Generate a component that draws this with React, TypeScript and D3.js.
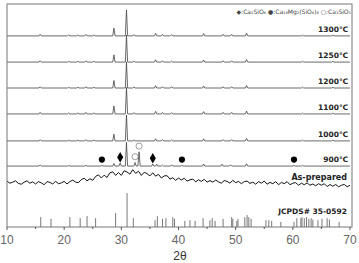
import React, { useEffect, useRef } from "react";
import * as d3 from "d3";

// x range of the patterns (2θ, degrees)
const xTicks = [10, 20, 30, 40, 50, 60, 70];
const xMinor = [15, 25, 35, 45, 55, 65];

// akermanite-type reflections seen in the 1000-1300 ℃ patterns
const peakPos = [15.8, 20.8, 22.4, 23.8, 25.2, 28.7, 30.9, 32.2, 36.0, 37.2, 38.8, 44.4, 47.8, 49.3, 51.9, 61.7, 67.0];
const tempLabels = ["1300℃", "1250℃", "1200℃", "1100℃", "1000℃"];
const tempOffsets = [737, 636, 536, 436, 332];
const tempIntensities = [
  [6, 4, 4, 6, 4, 30, 100, 5, 10, 6, 5, 9, 6, 6, 11, 3, 3],
  [5, 3, 3, 5, 3, 28, 104, 4, 9, 5, 4, 8, 5, 5, 10, 3, 3],
  [5, 3, 3, 5, 3, 29, 100, 4, 9, 5, 5, 8, 5, 5, 10, 4, 3],
  [6, 4, 4, 6, 4, 31, 102, 5, 10, 6, 5, 9, 6, 6, 11, 3, 3],
  [5, 3, 3, 5, 3, 26, 100, 4, 8, 5, 4, 8, 5, 5, 10, 3, 3],
];

// 900 ℃ pattern
const pos900 = [15.8, 20.8, 23.8, 26.6, 28.7, 29.8, 30.9, 32.4, 33.1, 35.5, 36.2, 37.2, 38.8, 40.6, 44.4, 47.6, 49.1, 51.9, 60.2, 61.7];
const int900 = [4, 2, 3, 3, 10, 12, 92, 14, 55, 8, 7, 4, 5, 3, 8, 7, 5, 9, 3, 3];
const offset900 = 235;
// phase markers on the 900 ℃ pattern: d = diamond, f = filled circle, o = open circle
const markerPos = [26.6, 29.8, 32.4, 33.1, 35.5, 40.6, 60.2];
const markerType = ["f", "d", "o", "o", "d", "f", "f"];

// as-prepared (amorphous) pattern, sampled every 0.5° from 10 to 70
const asPrepared = [
  7, -1, 3, 8, -2, -5, 3, 8, -1, 4, -4, 5, 0, -7, 5, 2, -4, 6, -3, 0,
  6, -4, 5, 11, 3, 1, 13, 18, 8, 16, 10, 25, 31, 19, 30, 21, 39, 43, 29, 40,
  29, 47, 42, 34, 51, 37, 45, 29, 41, 36, 27, 39, 26, 33, 19, 27, 28, 15, 20, 10,
  19, 11, 18, 7, 12, 15, 4, 12, 6, 14, 3, 9, 3, 11, 4, -1, 9, 6, -1, 10,
  1, 6, -3, 5, 7, -2, 3, -5, 5, -1, 7, -5, 2, -3, 5, -7, 2, -3, 5, -7,
  -1, 1, -9, -1, -7, 0, -9, -4, -11, -3, -9, -3, -14, -6, -13, -6, -15, -9, -6, -15,
  -9,
];
const asPreparedOffset = 170;

// JCPDS# 35-0592 reference lines
const refPos = [15.9, 17.7, 21.0, 22.8, 24.0, 25.5, 29.0, 31.0, 32.1, 35.9, 36.3, 37.2, 37.8, 39.0, 39.3,
  41.1, 42.0, 42.9, 44.3, 45.5, 45.9, 46.4, 47.8, 49.3, 49.5, 50.2, 50.4, 51.6, 52.0, 52.3, 52.7,
  55.3, 55.8, 56.3, 57.9, 60.2, 60.7, 61.4, 61.6, 62.0, 62.4, 62.8, 63.2, 63.5, 64.4, 65.1, 66.0, 66.4, 68.1];
const refInt = [29, 24, 29, 26, 32, 26, 41, 100, 26, 20, 32, 24, 26, 29, 24,
  18, 20, 18, 26, 20, 26, 18, 24, 29, 24, 18, 24, 29, 35, 29, 24,
  20, 20, 18, 15, 15, 26, 26, 29, 26, 29, 24, 26, 22, 20, 24, 26, 22, 15];

const W = 359;
const H = 263;

const App: React.FC = () => {
  const ref = useRef<SVGSVGElement>(null);

  useEffect(() => {
    document.body.style.margin = "0";
    const svg = d3.select(ref.current);
    svg.selectAll("*").remove();

    const left = 7, right = 352, top = 4, bottom = 227;
    const x = d3.scaleLinear().domain([10, 70]).range([left, 350]);
    const y = d3.scaleLinear().domain([0, 860]).range([bottom, top]);
    const yRef = d3.scaleLinear().domain([0, 100]).range([bottom, 193]);
    const lineColor = "#444";

    svg.append("rect").attr("width", W).attr("height", H).attr("fill", "#fff");

    const line = d3.line<[number, number]>().x((d) => x(d[0])).y((d) => y(d[1]));
    const hw = 0.2;
    const spikes = (pos: number[], ints: number[], off: number): [number, number][] => {
      const pts: [number, number][] = [[10, off]];
      pos.forEach((p, i) => {
        pts.push([p - hw, off], [p, off + ints[i]], [p + hw, off]);
      });
      pts.push([70, off]);
      return pts;
    };

    const g = svg.append("g");

    // reference sticks
    g.selectAll("line.ref")
      .data(refPos)
      .enter()
      .append("line")
      .attr("x1", (d) => x(d))
      .attr("x2", (d) => x(d))
      .attr("y1", bottom)
      .attr("y2", (d, i) => yRef(refInt[i]))
      .attr("stroke", "#555")
      .attr("stroke-width", 0.8);

    // as-prepared
    g.append("path")
      .attr("d", line(asPrepared.map((v, i) => [10 + i * 0.5, asPreparedOffset + v] as [number, number])))
      .attr("fill", "none")
      .attr("stroke", "#111")
      .attr("stroke-width", 1);

    // 900
    g.append("path")
      .attr("d", line(spikes(pos900, int900, offset900)))
      .attr("fill", "none")
      .attr("stroke", lineColor)
      .attr("stroke-width", 0.8);

    // 1000 - 1300
    tempOffsets.forEach((off, k) => {
      g.append("path")
        .attr("d", line(spikes(peakPos, tempIntensities[k], off)))
        .attr("fill", "none")
        .attr("stroke", lineColor)
        .attr("stroke-width", 0.8);
    });

    // markers
    const mk = g.selectAll("g.mk")
      .data(markerPos)
      .enter()
      .append("g")
      .attr("transform", (d) => {
        const h = int900[pos900.indexOf(d)] ?? 0;
        return `translate(${x(d)},${y(offset900 + h + 22)})`;
      });
    mk.append("path")
      .attr("d", (d, i) => {
        const t = markerType[i];
        return d3.symbol().type(t === "d" ? d3.symbolDiamond : d3.symbolCircle).size(t === "d" ? 32 : 30)() as string;
      })
      .attr("fill", (d, i) => (markerType[i] === "o" ? "#fff" : "#000"))
      .attr("stroke", (d, i) => (markerType[i] === "o" ? "#777" : "none"))
      .attr("stroke-width", 0.7);

    // labels
    const labelFont = "'DejaVu Sans', sans-serif";
    const labels = [...tempLabels, "900℃"];
    const offs = [...tempOffsets, offset900];
    g.selectAll("text.temp")
      .data(labels)
      .enter()
      .append("text")
      .attr("x", 348)
      .attr("y", (d, i) => y(offs[i]) - 4)
      .attr("text-anchor", "end")
      .attr("font-family", labelFont)
      .attr("font-weight", "bold")
      .attr("font-size", 7.5)
      .attr("fill", "#222")
      .text((d) => d);

    svg.append("text")
      .attr("x", 347).attr("y", 180)
      .attr("text-anchor", "end")
      .attr("font-family", labelFont).attr("font-weight", "bold").attr("font-size", 8)
      .attr("fill", "#222")
      .text("As-prepared");

    svg.append("text")
      .attr("x", 347).attr("y", 214)
      .attr("text-anchor", "end")
      .attr("font-family", labelFont).attr("font-weight", "bold").attr("font-size", 7.5)
      .attr("fill", "#222")
      .text("JCPDS# 35-0592");

    svg.append("text")
      .attr("x", 351).attr("y", 14)
      .attr("text-anchor", "end")
      .attr("font-family", labelFont).attr("font-size", 6)
      .attr("fill", "#444")
      .text("◆:Ca₂SiO₄  ●:Ca₁₄Mg₂(SiO₄)₈  ○:Ca₃SiO₅");

    // frame
    svg.append("rect")
      .attr("x", left).attr("y", top)
      .attr("width", right - left).attr("height", bottom - top)
      .attr("fill", "none")
      .attr("stroke", "#777")
      .attr("stroke-width", 1);

    // x axis
    const ax = svg.append("g");
    ax.selectAll("line.maj")
      .data(xTicks)
      .enter()
      .append("line")
      .attr("x1", (d) => x(d)).attr("x2", (d) => x(d))
      .attr("y1", bottom).attr("y2", bottom + 3)
      .attr("stroke", "#555");
    ax.selectAll("line.min")
      .data(xMinor)
      .enter()
      .append("line")
      .attr("x1", (d) => x(d)).attr("x2", (d) => x(d))
      .attr("y1", bottom).attr("y2", bottom + 2)
      .attr("stroke", "#555");
    ax.selectAll("text")
      .data(xTicks)
      .enter()
      .append("text")
      .attr("x", (d) => x(d))
      .attr("y", 244)
      .attr("text-anchor", "middle")
      .attr("font-family", "'Liberation Sans', Arial, sans-serif")
      .attr("font-size", 12)
      .attr("fill", "#666")
      .text((d) => d);

    svg.append("text")
      .attr("x", 180).attr("y", 260)
      .attr("text-anchor", "middle")
      .attr("font-family", "'Liberation Sans', Arial, sans-serif")
      .attr("font-size", 12)
      .attr("fill", "#333")
      .text("2θ");
  }, []);

  return <svg ref={ref} width={W} height={H} style={{ display: "block" }} />;
};

export default App;
